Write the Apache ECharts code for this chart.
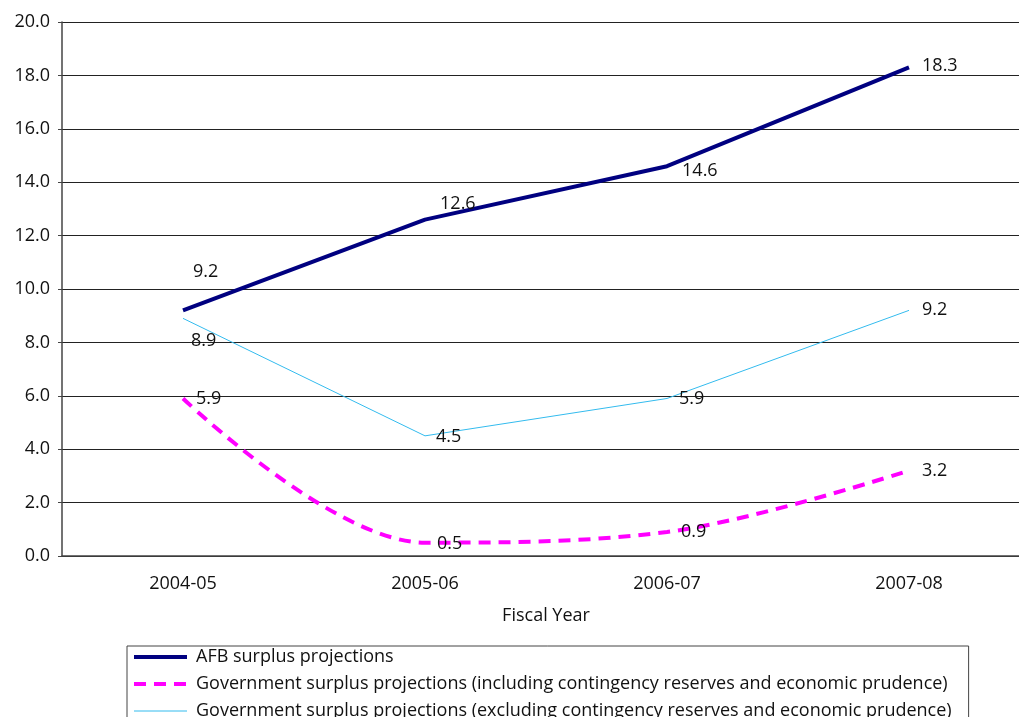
<!DOCTYPE html>
<html>
<head>
<meta charset="utf-8">
<script src="https://cdn.jsdelivr.net/npm/echarts@6/dist/echarts.min.js"></script>
<style>html,body{margin:0;padding:0;background:#fff;overflow:hidden;width:1019px;height:717px}#c{width:1030px;height:717px}</style>
</head>
<body>
<div id="c"></div>
<script>
const categories = ['2004-05', '2005-06', '2006-07', '2007-08'];
const afb = [9.2, 12.6, 14.6, 18.3];
const govIncl = [5.9, 0.5, 0.9, 3.2];
const govExcl = [8.9, 4.5, 5.9, 9.2];
const seriesNames = [
  'AFB surplus projections',
  'Government surplus projections (including contingency reserves and economic prudence)',
  'Government surplus projections (excluding contingency reserves and economic prudence)'
];

// label offsets (styling, not data)
const afbOffsets = [[10, -38], [15, -16], [15, 5], [13, -2]];
const inclOffsets = [[13, 0], [12, 1], [14, 0], [13, 0]];
const exclOffsets = [[8, 23], [11, 1], [12, 0], [13, 0]];
const legendWidths = [4, 4, 1];

const FONT = 'Open Sans';
const FS = 18;
function mk(vals, offs) {
  return vals.map((v, i) => ({
    value: v,
    label: { offset: offs[i] }
  }));
}
const labelBase = {
  show: true, position: 'right', distance: 0, color: '#111', align: 'left',
  fontFamily: FONT, fontSize: FS, formatter: p => p.value.toFixed(1)
};

const chart = echarts.init(document.getElementById('c'));
chart.setOption({
  animation: false,
  textStyle: { fontFamily: FONT },
  grid: { left: 62, top: 22, right: 0, height: 534, containLabel: false },
  xAxis: {
    type: 'category', data: categories, boundaryGap: true,
    axisLine: { lineStyle: { color: '#444', width: 1.5 } },
    axisTick: { show: false },
    axisLabel: { color: '#111', fontSize: FS, fontFamily: FONT, margin: 19 },
    name: 'Fiscal Year', nameLocation: 'middle', nameGap: 51,
    nameTextStyle: { color: '#111', fontSize: FS, fontFamily: FONT }
  },
  yAxis: {
    type: 'value', min: 0, max: 20, interval: 2,
    axisLine: { show: true, lineStyle: { color: '#444', width: 1.5 } },
    axisTick: { show: true, length: 4, lineStyle: { color: '#444' } },
    axisLabel: { color: '#111', fontSize: FS, fontFamily: FONT, margin: 12, formatter: v => v.toFixed(1) },
    splitLine: { lineStyle: { color: '#222', width: 1 } }
  },
  legend: {
    orient: 'vertical', left: 127, top: 646, height: 120,
    borderColor: '#444', borderWidth: 1,
    padding: [1, 17, 1, 5],
    itemWidth: 53, itemHeight: 14, itemGap: 7,
    itemStyle: { opacity: 0 },
    textStyle: { color: '#111', fontSize: FS, fontFamily: FONT, lineHeight: 20, padding: [0, 0, 0, 4] },
    data: seriesNames.map((n, i) => ({ name: n, lineStyle: { width: legendWidths[i] } }))
  },
  series: [
    {
      name: seriesNames[0], type: 'line', data: mk(afb, afbOffsets),
      symbol: 'circle', symbolSize: 0.1, itemStyle: { color: '#000080' },
      lineStyle: { color: '#000080', width: 4 }, label: labelBase, z: 3
    },
    {
      name: seriesNames[1], type: 'line', data: mk(govIncl, inclOffsets), smooth: 0.35,
      symbol: 'circle', symbolSize: 0.1, itemStyle: { color: '#ff00ff' },
      lineStyle: { color: '#ff00ff', width: 4, type: [12, 8] }, label: labelBase, z: 2
    },
    {
      name: seriesNames[2], type: 'line', data: mk(govExcl, exclOffsets),
      symbol: 'circle', symbolSize: 0.1, itemStyle: { color: '#33bbee' },
      lineStyle: { color: '#33bbee', width: 1 }, label: labelBase, z: 2
    }
  ]
});
</script>
</body>
</html>
